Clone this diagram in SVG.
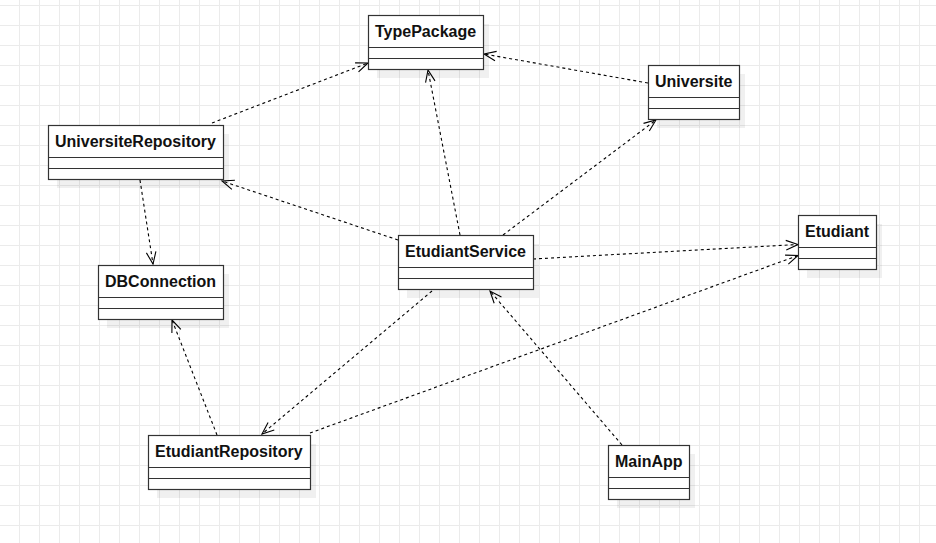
<svg xmlns="http://www.w3.org/2000/svg" width="936" height="543" viewBox="0 0 936 543">
  <defs>
    <pattern id="grid" width="20" height="20" patternUnits="userSpaceOnUse">
      <path d="M19.5 0 V20 M0 5.5 H20" fill="none" stroke="#ebebeb" stroke-width="1"/>
    </pattern>
    <marker id="open" viewBox="-14 -7 16 14" refX="0" refY="0" markerWidth="16" markerHeight="14" markerUnits="userSpaceOnUse" orient="auto">
      <path d="M-12,-4.8 L0,0 L-12,4.8" fill="none" stroke="#000" stroke-width="1.1"/>
    </marker>
  </defs>
  <style>
    .shadow { fill: #000; fill-opacity: 0.06; stroke: none; }
    .box { fill: #fff; stroke: #333; stroke-width: 1.2; }
    .sep { stroke: #333; stroke-width: 1.2; }
    .title { font-family: "Liberation Sans", Arial, sans-serif; font-size: 16px; font-weight: bold; fill: #111; }
    .dep { fill: none; stroke: #000; stroke-width: 1.1; stroke-dasharray: 3 3; marker-end: url(#open); }
  </style>
  <rect width="936" height="543" fill="#fff"/>
  <rect width="936" height="543" fill="url(#grid)"/>

  <g id="connectors">
    <line class="dep" x1="212" y1="123" x2="368" y2="63"/>
    <line class="dep" x1="648" y1="83" x2="484" y2="54"/>
    <line class="dep" x1="460" y1="235" x2="428" y2="70"/>
    <line class="dep" x1="503" y1="235" x2="656" y2="120"/>
    <line class="dep" x1="398" y1="240" x2="222" y2="181"/>
    <line class="dep" x1="533" y1="259" x2="798" y2="244.5"/>
    <line class="dep" x1="432" y1="291" x2="262" y2="434"/>
    <line class="dep" x1="310" y1="433" x2="798" y2="255.5"/>
    <line class="dep" x1="622" y1="445" x2="490" y2="291"/>
    <line class="dep" x1="140" y1="180" x2="153" y2="264"/>
    <line class="dep" x1="217" y1="435" x2="172" y2="320"/>
  </g>

  <g id="TypePackage">
    <rect class="shadow" x="377" y="24" width="112" height="54"/>
    <rect class="box" x="368.5" y="15.5" width="115" height="54"/>
    <line class="sep" x1="368.5" y1="47.5" x2="483.5" y2="47.5"/>
    <line class="sep" x1="368.5" y1="58.5" x2="483.5" y2="58.5"/>
    <text class="title" x="375" y="37">TypePackage</text>
  </g>

  <g id="Universite">
    <rect class="shadow" x="657" y="74" width="88" height="54"/>
    <rect class="box" x="648.5" y="65.5" width="91" height="54"/>
    <line class="sep" x1="648.5" y1="97.5" x2="739.5" y2="97.5"/>
    <line class="sep" x1="648.5" y1="108.5" x2="739.5" y2="108.5"/>
    <text class="title" x="655" y="87">Universite</text>
  </g>

  <g id="UniversiteRepository">
    <rect class="shadow" x="57" y="134" width="172" height="54"/>
    <rect class="box" x="48.5" y="125.5" width="175" height="54"/>
    <line class="sep" x1="48.5" y1="157.5" x2="223.5" y2="157.5"/>
    <line class="sep" x1="48.5" y1="168.5" x2="223.5" y2="168.5"/>
    <text class="title" x="55" y="147">UniversiteRepository</text>
  </g>

  <g id="EtudiantService">
    <rect class="shadow" x="407" y="244" width="132" height="54"/>
    <rect class="box" x="398.5" y="235.5" width="135" height="54"/>
    <line class="sep" x1="398.5" y1="267.5" x2="533.5" y2="267.5"/>
    <line class="sep" x1="398.5" y1="278.5" x2="533.5" y2="278.5"/>
    <text class="title" x="405" y="257">EtudiantService</text>
  </g>

  <g id="Etudiant">
    <rect class="shadow" x="807" y="224" width="75" height="54"/>
    <rect class="box" x="798.5" y="215.5" width="78" height="54"/>
    <line class="sep" x1="798.5" y1="247.5" x2="876.5" y2="247.5"/>
    <line class="sep" x1="798.5" y1="258.5" x2="876.5" y2="258.5"/>
    <text class="title" x="805" y="237">Etudiant</text>
  </g>

  <g id="DBConnection">
    <rect class="shadow" x="107" y="274" width="122" height="54"/>
    <rect class="box" x="98.5" y="265.5" width="125" height="54"/>
    <line class="sep" x1="98.5" y1="297.5" x2="223.5" y2="297.5"/>
    <line class="sep" x1="98.5" y1="308.5" x2="223.5" y2="308.5"/>
    <text class="title" x="105" y="287">DBConnection</text>
  </g>

  <g id="EtudiantRepository">
    <rect class="shadow" x="157" y="444" width="159" height="54"/>
    <rect class="box" x="148.5" y="435.5" width="162" height="54"/>
    <line class="sep" x1="148.5" y1="467.5" x2="310.5" y2="467.5"/>
    <line class="sep" x1="148.5" y1="478.5" x2="310.5" y2="478.5"/>
    <text class="title" x="155" y="457">EtudiantRepository</text>
  </g>

  <g id="MainApp">
    <rect class="shadow" x="617" y="454" width="78" height="54"/>
    <rect class="box" x="608.5" y="445.5" width="81" height="54"/>
    <line class="sep" x1="608.5" y1="477.5" x2="689.5" y2="477.5"/>
    <line class="sep" x1="608.5" y1="488.5" x2="689.5" y2="488.5"/>
    <text class="title" x="615" y="467">MainApp</text>
  </g>
</svg>
